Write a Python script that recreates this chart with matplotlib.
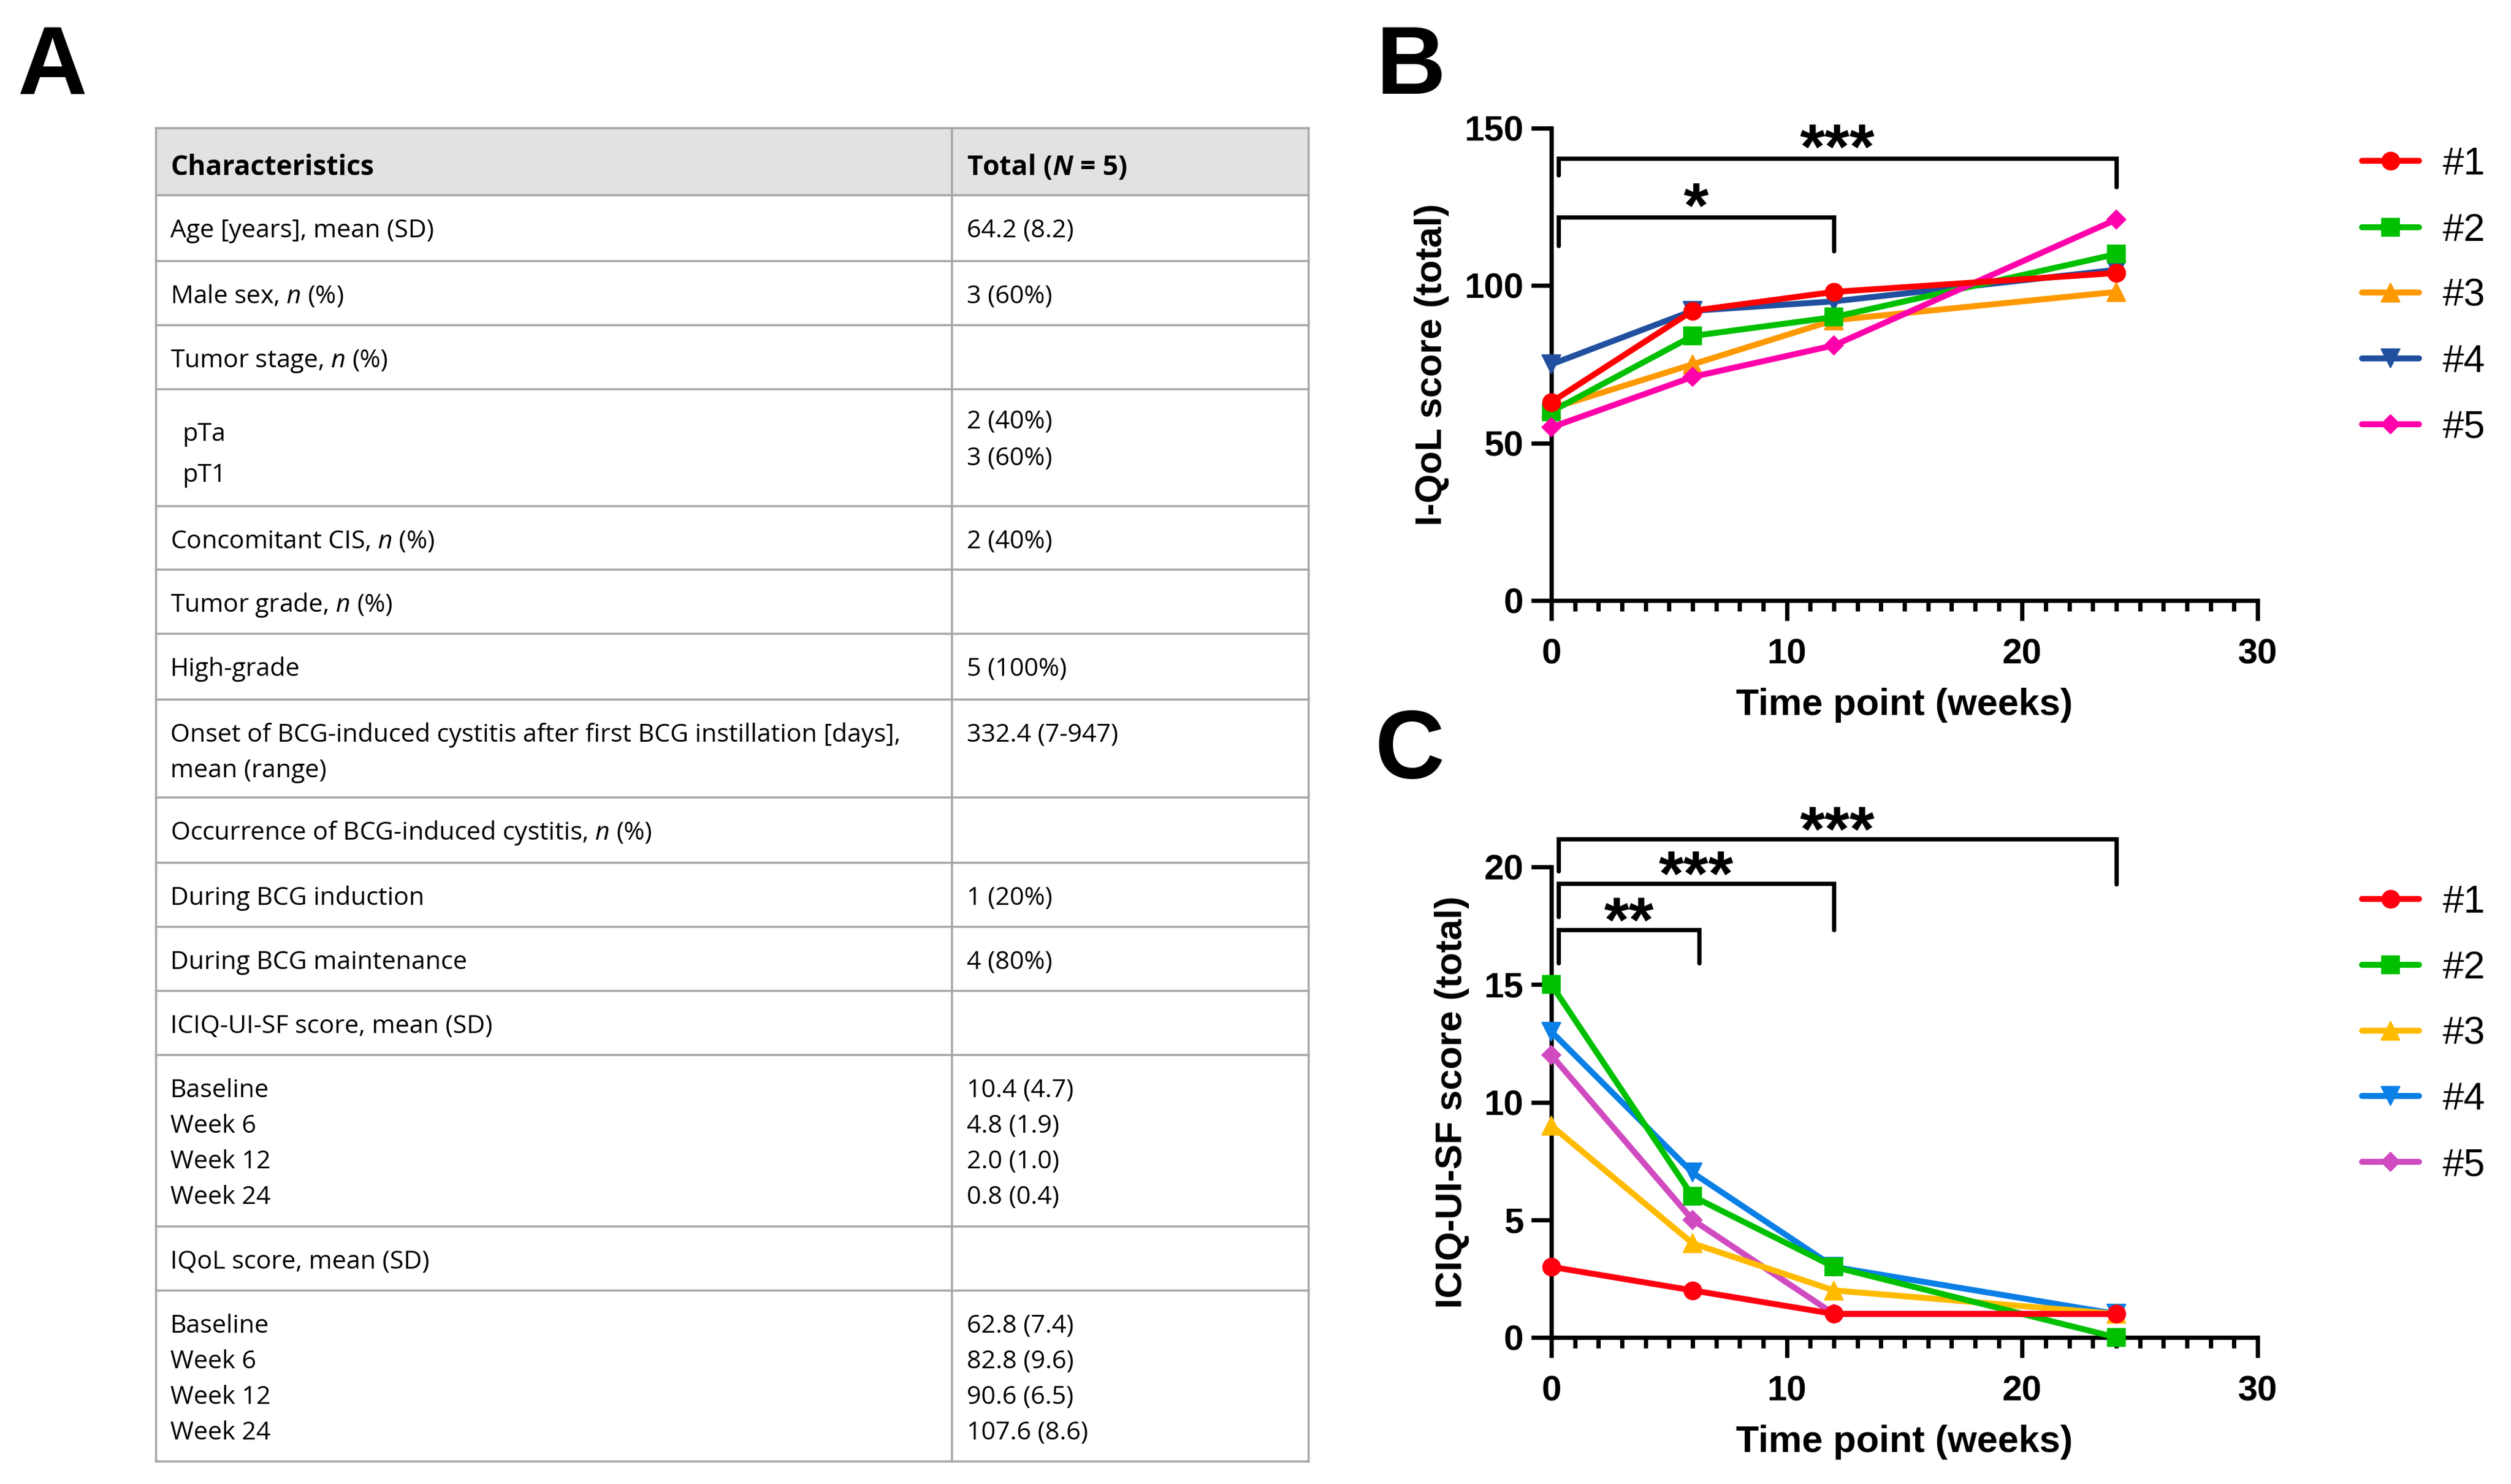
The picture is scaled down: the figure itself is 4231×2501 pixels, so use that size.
import matplotlib
matplotlib.use("Agg")
import matplotlib.pyplot as plt
from matplotlib.patches import Rectangle
from matplotlib.ticker import MultipleLocator, FixedLocator
from matplotlib import transforms

plt.rcParams['font.family'] = ['Liberation Sans', 'DejaVu Sans']
plt.rcParams['mathtext.fontset'] = 'custom'
plt.rcParams['mathtext.rm'] = 'Open Sans'
plt.rcParams['mathtext.it'] = 'Open Sans:italic'
plt.rcParams['mathtext.bf'] = 'Open Sans:bold'
plt.rcParams['mathtext.bfit'] = 'Open Sans:italic:bold'

# ---------------- data ----------------
table_header = ["Characteristics", r"Total ($\mathbfit{N}$ = 5)"]
char_labels = [
    ["Age [years], mean (SD)"],
    [r"Male sex, $\mathit{n}$ (%)"],
    [r"Tumor stage, $\mathit{n}$ (%)"],
    ["pTa", "pT1"],
    [r"Concomitant CIS, $\mathit{n}$ (%)"],
    [r"Tumor grade, $\mathit{n}$ (%)"],
    ["High-grade"],
    ["Onset of BCG-induced cystitis after first BCG instillation [days],", "mean (range)"],
    [r"Occurrence of BCG-induced cystitis, $\mathit{n}$ (%)"],
    ["During BCG induction"],
    ["During BCG maintenance"],
    ["ICIQ-UI-SF score, mean (SD)"],
    ["Baseline", "Week 6", "Week 12", "Week 24"],
    ["IQoL score, mean (SD)"],
    ["Baseline", "Week 6", "Week 12", "Week 24"],
]
char_values = [
    ["64.2 (8.2)"],
    ["3 (60%)"],
    [],
    ["2 (40%)", "3 (60%)"],
    ["2 (40%)"],
    [],
    ["5 (100%)"],
    ["332.4 (7-947)"],
    [],
    ["1 (20%)"],
    ["4 (80%)"],
    [],
    ["10.4 (4.7)", "4.8 (1.9)", "2.0 (1.0)", "0.8 (0.4)"],
    [],
    ["62.8 (7.4)", "82.8 (9.6)", "90.6 (6.5)", "107.6 (8.6)"],
]

weeks = [0, 6, 12, 24]
patients = ["#1", "#2", "#3", "#4", "#5"]
iqol_p1 = [63, 92, 98, 104]
iqol_p2 = [60, 84, 90, 110]
iqol_p3 = [61, 75, 89, 98]
iqol_p4 = [75, 92, 95, 105]
iqol_p5 = [55, 71, 81, 121]
iciq_p1 = [3, 2, 1, 1]
iciq_p2 = [15, 6, 3, 0]
iciq_p3 = [9, 4, 2, 1]
iciq_p4 = [13, 7, 3, 1]
iciq_p5 = [12, 5, 1, 1]

# significance brackets: (x_left, x_right, y_top, y_left_end, y_right_end, label)
iqol_sig = [(0.3, 24.0, 140.4, 135.1, 131.3, "***"),
            (0.3, 12.0, 121.7, 112.7, 111.0, "*")]
iciq_sig = [(0.3, 24.0, 21.19, 19.82, 19.27, "***"),
            (0.3, 12.0, 19.29, 17.88, 17.33, "***"),
            (0.3, 6.28, 17.33, 15.91, 15.91, "**")]

# ---------------- styles ----------------
iqol_colors = ["#FF0000", "#00C000", "#FF9900", "#2150A0", "#FF00AA"]
iciq_colors = ["#FF0010", "#00C000", "#FFBB00", "#0A80E6", "#D04AC0"]
markers = ["o", "s", "^", "v", "D"]
msizes = [7.2, 7.4, 7.8, 7.8, 5.4]
iqol_z = [10, 8, 7, 6, 9]
iciq_z = [10, 9, 8, 7, 6]

W, H, DPI = 4231, 2501, 300
PX = 72.0 / DPI  # points per pixel

fig = plt.figure(figsize=(W / DPI, H / DPI), dpi=DPI, facecolor="white")
bg = fig.add_axes([0, 0, 1, 1])
bg.set_xlim(0, W)
bg.set_ylim(H, 0)
bg.axis("off")

# ---------------- panel labels ----------------
for lab, x, yb in [("A", 30, 158), ("B", 2318, 158), ("C", 2316, 1311)]:
    bg.text(x, yb, lab, fontsize=39, fontweight="bold", ha="left", va="baseline",
            family="Liberation Sans")

# ---------------- table (panel A) ----------------
row_edges = [216, 329, 440, 548, 656, 853, 960, 1068, 1179, 1344, 1454, 1562,
             1670, 1778, 2067, 2175, 2463]
col_x = [263, 1604, 2205]
text_x = [287, 1629]
grid_c = "#a6a6a6"
grid_lw = 3.5 * PX
tfs = 10.2
hfs = 11.0
tfam = "Open Sans"

bg.add_patch(Rectangle((col_x[0], row_edges[0]), col_x[2] - col_x[0],
                       row_edges[1] - row_edges[0], facecolor="#e2e2e2",
                       edgecolor="none", zorder=1))
for y in row_edges:
    bg.plot([col_x[0], col_x[2]], [y, y], color=grid_c, lw=grid_lw, zorder=2,
            solid_capstyle="projecting")
for x in col_x:
    bg.plot([x, x], [row_edges[0], row_edges[-1]], color=grid_c, lw=grid_lw,
            zorder=2, solid_capstyle="projecting")

bg.text(text_x[0], row_edges[0] + 79, table_header[0], fontsize=hfs,
        fontweight="bold", family=tfam, va="baseline", ha="left", zorder=3)
bg.text(text_x[1], row_edges[0] + 79, table_header[1], fontsize=hfs,
        fontweight="bold", family=tfam, va="baseline", ha="left", zorder=3)

# per-row layout: (first baseline L, step L, first baseline R, step R, indent L)
default_layout = (71, 60, 71, 60, 0)
special_layout = {3: (87, 69, 66, 62, 20)}
for i, (left, right) in enumerate(zip(char_labels, char_values)):
    top = row_edges[i + 1]
    fl, sl, fr, sr, ind = special_layout.get(i, default_layout)
    for k, s in enumerate(left):
        bg.text(text_x[0] + ind, top + fl + k * sl, s, fontsize=tfs, family=tfam,
                va="baseline", ha="left", zorder=3)
    for k, s in enumerate(right):
        bg.text(text_x[1], top + fr + k * sr, s, fontsize=tfs, family=tfam,
                va="baseline", ha="left", zorder=3)

# ---------------- line charts ----------------
AX_L, AX_R = 2614, 3804
spine_lw = 1.75
line_lw = 2.4
lab_fs = 15.2


def make_axes(y_top_px, y_bot_px):
    ax = fig.add_axes([AX_L / W, (H - y_bot_px) / H, (AX_R - AX_L) / W,
                       (y_bot_px - y_top_px) / H])
    ax.set_facecolor("none")
    for s in ["top", "right"]:
        ax.spines[s].set_visible(False)
    for s in ["left", "bottom"]:
        ax.spines[s].set_linewidth(spine_lw)
        ax.spines[s].set_capstyle("projecting")
    ax.set_xlim(0, 30)
    ax.xaxis.set_major_locator(FixedLocator([0, 10, 20, 30]))
    ax.xaxis.set_minor_locator(MultipleLocator(1))
    ax.tick_params(axis="x", which="major", length=8.2, width=spine_lw, pad=7,
                   labelsize=14.4)
    ax.tick_params(axis="x", which="minor", length=4.2, width=spine_lw)
    ax.tick_params(axis="y", which="major", length=8.2, width=spine_lw, pad=3,
                   labelsize=14.4)
    return ax


def draw_series(ax, series, colors, zs):
    for vals, c, m, ms, z in zip(series, colors, markers, msizes, zs):
        ax.plot(weeks, vals, color=c, lw=line_lw, marker=m, markersize=ms,
                markeredgecolor=c, markeredgewidth=0.4, clip_on=False, zorder=z,
                solid_capstyle="round", solid_joinstyle="round")


def draw_sig(ax, sigs, star_gap_px):
    for x0, x1, yt, yl, yr, lab in sigs:
        ax.plot([x0, x0, x1, x1], [yl, yt, yt, yr], color="black", lw=spine_lw,
                clip_on=False, zorder=12, solid_capstyle="round",
                solid_joinstyle="miter")
        tr = transforms.offset_copy(ax.transData, fig=fig,
                                    y=(star_gap_px - 0.44 * 26 / PX) * PX,
                                    units="points")
        ax.text((x0 + x1) / 2.0, yt, lab, transform=tr, fontsize=26,
                fontweight="bold", ha="center", va="baseline", zorder=12)


def draw_legend(colors, ys):
    for c, m, ms, y, name in zip(colors, markers, msizes, ys, patients):
        bg.plot([3980, 4076], [y, y], color=c, lw=line_lw, solid_capstyle="round",
                zorder=5)
        bg.plot([4028], [y], color=c, marker=m, markersize=ms, markeredgecolor=c,
                markeredgewidth=0.4, zorder=6)
        bg.text(4116, y + 23, name, fontsize=15.5, ha="left", va="baseline",
                family="Liberation Sans")


# Panel B
axB = make_axes(216, 1012)
axB.set_ylim(0, 150)
axB.yaxis.set_major_locator(FixedLocator([0, 50, 100, 150]))
draw_series(axB, [iqol_p1, iqol_p2, iqol_p3, iqol_p4, iqol_p5], iqol_colors, iqol_z)
draw_sig(axB, iqol_sig, 31)
axB.set_xlabel("Time point (weeks)", fontsize=lab_fs, fontweight="bold", labelpad=7)
axB.set_ylabel("I-QoL score (total)", fontsize=lab_fs, fontweight="bold", labelpad=6)
draw_legend(iqol_colors, [271, 383, 493, 604, 715])

# Panel C
axC = make_axes(1461, 2254)
axC.set_ylim(0, 20)
axC.yaxis.set_major_locator(FixedLocator([0, 5, 10, 15, 20]))
draw_series(axC, [iciq_p1, iciq_p2, iciq_p3, iciq_p4, iciq_p5], iciq_colors, iciq_z)
draw_sig(axC, iciq_sig, 28)
axC.set_xlabel("Time point (weeks)", fontsize=lab_fs, fontweight="bold", labelpad=7)
axC.set_ylabel("ICIQ-UI-SF score (total)", fontsize=lab_fs, fontweight="bold", labelpad=6)
draw_legend(iciq_colors, [1515, 1626, 1737, 1847, 1958])

for ax in (axB, axC):
    for lab in ax.get_xticklabels() + ax.get_yticklabels():
        lab.set_fontweight("bold")

fig.savefig("out.png", dpi=DPI, facecolor="white")
